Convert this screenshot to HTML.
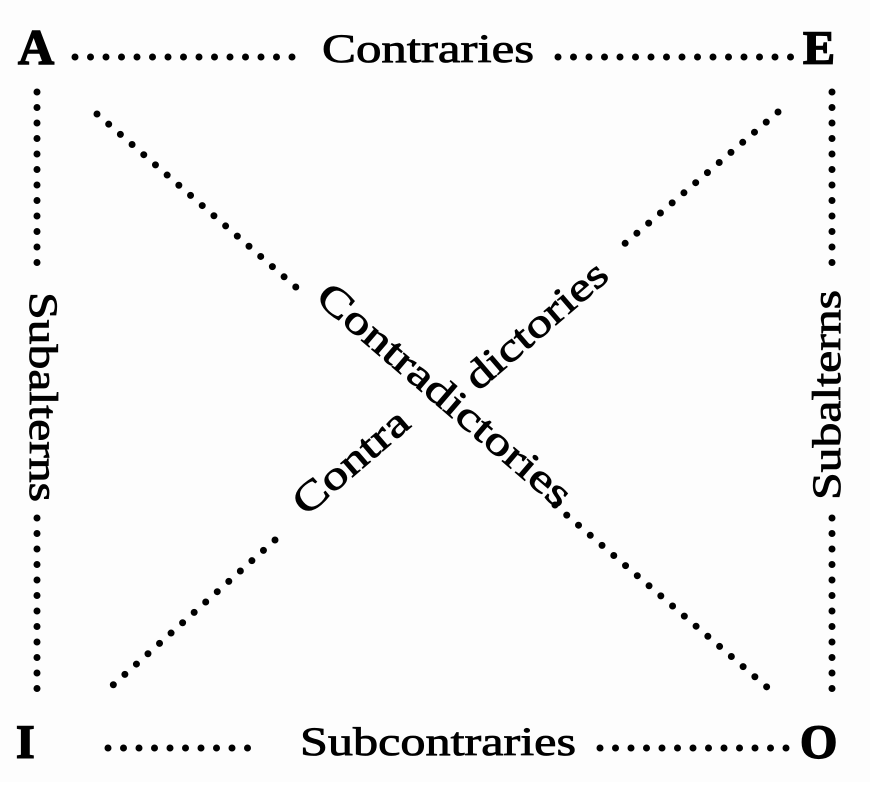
<!DOCTYPE html>
<html><head><style>html,body{margin:0;padding:0;background:#fff}</style></head>
<body>
<svg width="870" height="782" viewBox="0 0 870 782" xmlns="http://www.w3.org/2000/svg" font-family="Liberation Serif, serif">
<rect width="870" height="782" fill="#fdfdfd"/>
<g stroke="#000" stroke-width="7" stroke-linecap="round" stroke-dasharray="0 15.5" fill="none">
<line x1="75" y1="57" x2="302" y2="57"/>
<line x1="558" y1="57" x2="795" y2="57"/>
<line x1="108" y1="748" x2="260" y2="748"/>
<line x1="600" y1="748" x2="790" y2="748"/>
<line x1="37" y1="92" x2="37" y2="275"/>
<line x1="37" y1="518" x2="37" y2="702"/>
<line x1="832" y1="92" x2="832" y2="275"/>
<line x1="832" y1="518" x2="832" y2="702"/>
<line x1="97" y1="114" x2="305" y2="295"/>
<line x1="555" y1="505" x2="768" y2="688"/>
<line x1="778" y1="112" x2="622" y2="246"/>
<line x1="275" y1="540" x2="103" y2="694"/>
</g>
<g fill="#000" stroke="#000" stroke-width="0.8">
<text x="18" y="64" font-size="50" font-weight="bold" stroke-width="1.5">A</text>
<text x="803" y="64" font-size="48" font-weight="bold" stroke-width="1.5">E</text>
<text x="16" y="758" font-size="48" font-weight="bold" stroke-width="1.5">I</text>
<text x="800" y="758" font-size="48" font-weight="bold" stroke-width="1.5">O</text>
<text x="322" y="62" font-size="40" textLength="212" lengthAdjust="spacingAndGlyphs">Contraries</text>
<text x="300" y="755" font-size="40" textLength="276" lengthAdjust="spacingAndGlyphs">Subcontraries</text>
<text transform="translate(30,292) rotate(90)" font-size="40" textLength="210" lengthAdjust="spacingAndGlyphs">Subalterns</text>
<text transform="translate(840,500) rotate(-90)" font-size="40" textLength="210" lengthAdjust="spacingAndGlyphs">Subalterns</text>
<text transform="translate(314,300) rotate(40.6)" font-size="40" textLength="322" lengthAdjust="spacingAndGlyphs">Contradictories</text>
<text transform="translate(306,517) rotate(-40.6)" font-size="40" textLength="140" lengthAdjust="spacingAndGlyphs">Contra</text>
<text transform="translate(478,392) rotate(-40.6)" font-size="40" textLength="175" lengthAdjust="spacingAndGlyphs">dictories</text>
</g>
</svg>
</body></html>
